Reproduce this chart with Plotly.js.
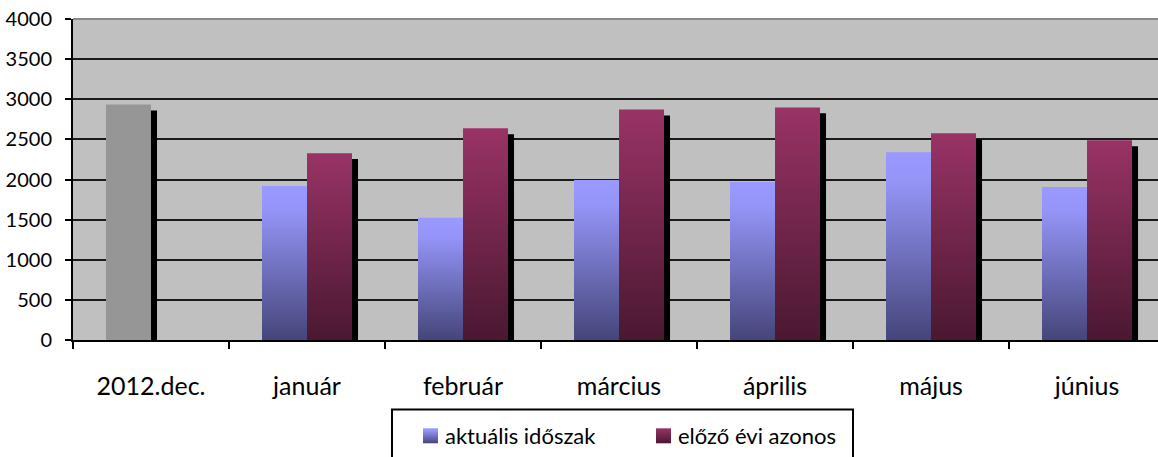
<!DOCTYPE html>
<html><head><meta charset="utf-8">
<script src="https://cdn.plot.ly/plotly-3.0.1.min.js"></script>
<style>html,body{margin:0;padding:0;background:#fff;}#chart{width:1158px;height:457px;}</style>
</head><body><div id="chart"></div>
<script>
// ---- data ----
const categories = ['2012.dec.', 'január', 'február', 'március', 'április', 'május', 'június'];
const aktualis = [2935, 1920, 1523, 1994, 1969, 2341, 1907];
const elozo = [null, 2328, 2638, 2873, 2898, 2576, 2489];
const seriesNames = ['aktuális időszak', 'előző évi azonos'];
const yTickVals = [0, 500, 1000, 1500, 2000, 2500, 3000, 3500, 4000];
const yTickText = ['0', '500', '1000', '1500', '2000', '2500', '3000', '3500', '4000'];

// ---- style ----
const FONT = 'Lato, "Open Sans", sans-serif';
const BAR_W = 0.2885;
const SHADOW_DX = 0.0385;
const SHADOW_DY = 74;
const GRAY = '#969696';
const BLUE = '#9999ff';
const MAROON = '#993366';
const blueColors = categories.map((c, i) => i === 0 ? GRAY : BLUE);

const traces = [
  {type: 'bar', x: categories, y: aktualis, base: -SHADOW_DY, width: BAR_W, offset: -BAR_W + SHADOW_DX,
   marker: {color: '#000', line: {width: 0}}, showlegend: false, hoverinfo: 'skip'},
  {type: 'bar', x: categories, y: elozo, base: -SHADOW_DY, width: BAR_W, offset: SHADOW_DX,
   marker: {color: '#000', line: {width: 0}}, showlegend: false, hoverinfo: 'skip'},
  {type: 'bar', name: seriesNames[0], x: categories, y: aktualis, width: BAR_W, offset: -BAR_W,
   marker: {color: blueColors, line: {width: 0}}},
  {type: 'bar', name: seriesNames[1], x: categories, y: elozo, width: BAR_W, offset: 0,
   marker: {color: MAROON, line: {width: 0}}}
];

const lx0 = (392 - 73) / 1085, lx1 = (853 - 73) / 1085;
const layout = {
  width: 1158, height: 457,
  margin: {l: 73, r: 0, t: 19, b: 115, pad: 0},
  paper_bgcolor: '#ffffff', plot_bgcolor: '#c0c0c0',
  barmode: 'overlay',
  font: {family: FONT, color: '#000'},
  xaxis: {
    type: 'category', range: [-0.5, 6.455], tickson: 'boundaries',
    ticks: 'outside', ticklen: 7, tickwidth: 2, tickcolor: '#000',
    showline: true, linecolor: '#000', linewidth: 2, showgrid: false, zeroline: false,
    tickfont: {family: FONT, size: 25, color: '#000'}, ticklabelstandoff: 23, fixedrange: true
  },
  yaxis: {
    range: [0, 4000], tickvals: yTickVals, ticktext: yTickText,
    ticks: 'outside', ticklen: 6, tickwidth: 2, tickcolor: '#000',
    showline: true, linecolor: '#000', linewidth: 2, zeroline: false,
    showgrid: true, gridcolor: '#1a1a1a', gridwidth: 2,
    tickfont: {family: FONT, size: 20, color: '#000'}, ticklabelstandoff: 9, fixedrange: true
  },
  legend: {
    orientation: 'h', x: (405 - 73) / 1085, xanchor: 'left', y: (342 - 418) / 323, yanchor: 'top',
    bgcolor: 'rgba(0,0,0,0)', borderwidth: 0, font: {family: FONT, size: 22, color: '#000'},
    entrywidth: 188, entrywidthmode: 'pixels', traceorder: 'normal'
  },
  shapes: [
    {type: 'rect', xref: 'paper', yref: 'paper', x0: lx0, x1: lx1, y0: (342 - 412) / 323, y1: (342 - 490) / 323,
     fillcolor: '#ffffff', line: {color: '#000', width: 2}, layer: 'above'},
    {type: 'line', xref: 'paper', yref: 'paper', x0: 0, x1: 1, y0: 1, y1: 1,
     line: {color: '#888888', width: 2}, layer: 'above'}
  ],
  showlegend: true
};

function addGrad(defs, id, stops) {
  const ns = 'http://www.w3.org/2000/svg';
  if (defs.querySelector('#' + id)) return;
  const g = document.createElementNS(ns, 'linearGradient');
  g.setAttribute('id', id); g.setAttribute('x1', '0'); g.setAttribute('y1', '0');
  g.setAttribute('x2', '0'); g.setAttribute('y2', '1');
  stops.forEach(s => {
    const st = document.createElementNS(ns, 'stop');
    st.setAttribute('offset', s[0]); st.setAttribute('stop-color', s[1]);
    g.appendChild(st);
  });
  defs.appendChild(g);
}

function applyGradients(gd) {
  const svg = gd.querySelector('svg.main-svg');
  const ns = 'http://www.w3.org/2000/svg';
  let defs = svg.querySelector('defs#customgrad');
  if (!defs) { defs = document.createElementNS(ns, 'defs'); defs.setAttribute('id', 'customgrad'); svg.insertBefore(defs, svg.firstChild); }
  addGrad(defs, 'gBlue', [['0', '#9999ff'], ['0.15', '#9595f8'], ['1', '#45457a']]);
  addGrad(defs, 'gMaroon', [['0', '#993366'], ['1', '#4a1830']]);
  const barTraces = gd.querySelectorAll('.barlayer .trace.bars');
  if (barTraces.length >= 4) {
    barTraces[2].querySelectorAll('.point path').forEach((p, i) => { if (blueColors[i] !== GRAY) p.style.fill = 'url(#gBlue)'; });
    barTraces[3].querySelectorAll('.point path').forEach(p => { p.style.fill = 'url(#gMaroon)'; });
  }
  const leg = gd.querySelectorAll('.legend .traces');
  const ids = ['gBlue', 'gMaroon'];
  leg.forEach((t, i) => {
    t.querySelectorAll('.legendpoints path').forEach(p => {
      p.style.fill = 'url(#' + ids[i] + ')'; p.style.stroke = 'none';
      p.setAttribute('d', 'M13,7.5H-2V-7.5H13Z');
    });
  });
}

const gd = document.getElementById('chart');
Plotly.newPlot(gd, traces, layout, {staticPlot: true, displayModeBar: false}).then(() => {
  applyGradients(gd);
  gd.on('plotly_afterplot', () => applyGradients(gd));
});
</script>
</body></html>
